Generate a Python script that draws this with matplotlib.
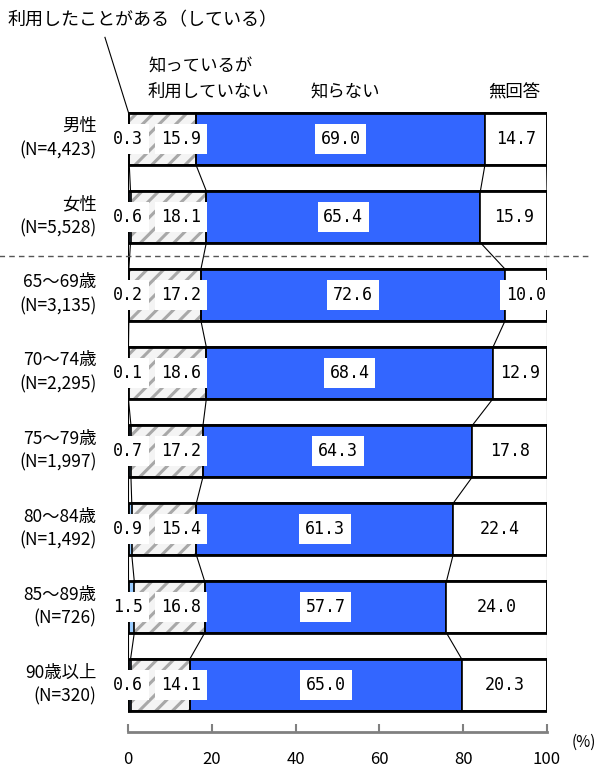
import matplotlib
matplotlib.use("Agg")
import matplotlib.pyplot as plt
from matplotlib.patches import Rectangle

plt.rcParams['font.family'] = ['Noto Sans CJK JP', 'DejaVu Sans']
plt.rcParams['hatch.linewidth'] = 2.2

categories = ["男性", "女性", "65～69歳", "70～74歳", "75～79歳", "80～84歳", "85～89歳", "90歳以上"]
sample_sizes = ["(N=4,423)", "(N=5,528)", "(N=3,135)", "(N=2,295)", "(N=1,997)", "(N=1,492)", "(N=726)", "(N=320)"]
used = [0.3, 0.6, 0.2, 0.1, 0.7, 0.9, 1.5, 0.6]
known_not_used = [15.9, 18.1, 17.2, 18.6, 17.2, 15.4, 16.8, 14.1]
unknown = [69.0, 65.4, 72.6, 68.4, 64.3, 61.3, 57.7, 65.0]
no_answer = [14.7, 15.9, 10.0, 12.9, 17.8, 22.4, 24.0, 20.3]
series_names = ["利用したことがある（している）", "知っているが\n利用していない", "知らない", "無回答"]
xticks = [0, 20, 40, 60, 80, 100]

fig = plt.figure(figsize=(6.02, 7.74), dpi=100)
ax = fig.add_axes([128/602, 1-732/774, (547-128)/602, (732-92)/774])
ax.set_xlim(0, 100)
ax.set_ylim(7.6, -0.6)

h = 0.66
blue = "#3366FF"
light = "#99CCFF"
n = len(categories)
num_font = dict(family=['DejaVu Sans Mono'], fontsize=12)
box = dict(boxstyle='square,pad=0.35', fc='white', ec='none')

cums = []
for i in range(n):
    a, b, c, d = used[i], known_not_used[i], unknown[i], no_answer[i]
    ax.barh(i, a, height=h, left=0, color=light, edgecolor='black', linewidth=1.0, zorder=2)
    ax.barh(i, b, height=h, left=a, color='#f4f4f4', edgecolor='#a8a8a8', hatch='//', linewidth=0, zorder=2)
    ax.barh(i, b, height=h, left=a, fill=False, edgecolor='black', linewidth=1.2, zorder=3)
    ax.barh(i, c, height=h, left=a+b, color=blue, edgecolor='black', linewidth=1.2, zorder=2)
    ax.barh(i, d, height=h, left=a+b+c, color='white', edgecolor='black', linewidth=1.2, zorder=2)
    tot = a + b + c + d
    ax.add_patch(Rectangle((0, i-h/2), tot, h, fill=False, ec='black', lw=2.0, zorder=4))
    cums.append([0, a, a+b, a+b+c, tot])
    ax.text(0, i, f"{a:.1f}", ha='center', va='center', bbox=box, zorder=6, **num_font)
    ax.text(12.7, i, f"{b:.1f}", ha='center', va='center', bbox=box, zorder=6, **num_font)
    ax.text(a+b+c/2, i, f"{c:.1f}", ha='center', va='center', bbox=box, zorder=6, **num_font)
    ax.text(a+b+c+d/2, i, f"{d:.1f}", ha='center', va='center', bbox=box, zorder=6, **num_font)
    ax.text(-7.5, i-0.16, categories[i], ha='right', va='center', fontsize=12.5)
    ax.text(-7.5, i+0.15, sample_sizes[i], ha='right', va='center', fontsize=12.5)

for i in range(n-1):
    for k in range(5):
        ax.plot([cums[i][k], cums[i+1][k]], [i+h/2, i+1-h/2], color='black', lw=0.8, zorder=1)

# separator between gender and age groups
ax.plot([-31, 110], [1.5, 1.5], color='#555555', lw=1, ls=(0, (4, 3)), clip_on=False, zorder=1)

# leader line for first series
ax.plot([used[0]/2, -5.5], [-h/2, -1.3], color='black', lw=0.8, clip_on=False)

fig.text(8/602, 1-20/774, series_names[0], ha='left', va='center', fontsize=13)
fig.text(148/602, 1-79/774, series_names[1], ha='left', va='center', fontsize=12.5, linespacing=1.5)
fig.text(310/602, 1-92/774, series_names[2], ha='left', va='center', fontsize=12.5)
fig.text(488/602, 1-92/774, series_names[3], ha='left', va='center', fontsize=12.5)

for s in ['top', 'right', 'left']:
    ax.spines[s].set_visible(False)
ax.spines['bottom'].set_color('#808080')
ax.spines['bottom'].set_linewidth(2)
ax.set_yticks([])
ax.set_xticks(xticks)
ax.tick_params(axis='x', direction='in', length=6, width=1.5, color='#808080', pad=14, labelsize=12)
fig.text(584/602, 1-742/774, "(%)", ha='center', va='center', fontsize=11)

fig.savefig("out.png", dpi=100)
